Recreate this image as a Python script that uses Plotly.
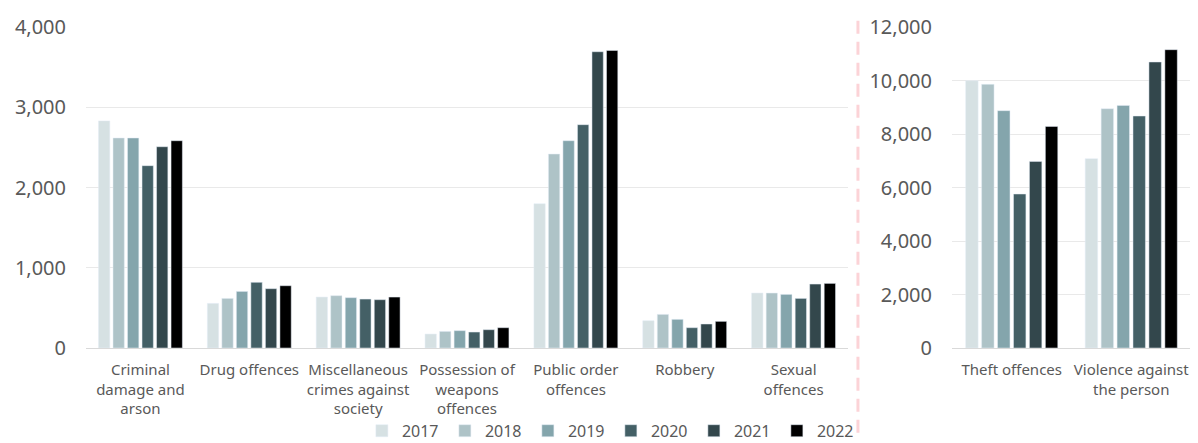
import plotly.graph_objects as go

# data
years = ['2017', '2018', '2019', '2020', '2021', '2022']
colours = ['#d6e1e3', '#aec3c7', '#84a5ac', '#446066', '#33474c', '#000000']

left_categories = ['Criminal<br>damage and<br>arson', 'Drug offences',
                   'Miscellaneous<br>crimes against<br>society',
                   'Possession of<br>weapons<br>offences', 'Public order<br>offences',
                   'Robbery', 'Sexual<br>offences']
right_categories = ['Theft offences', 'Violence against<br>the person']

# one list per year, in category order
left_values = {
  '2017': [2830, 556, 635, 174, 1798, 340, 685],
  '2018': [2617, 618, 652, 207, 2417, 419, 685],
  '2019': [2617, 705, 627, 216, 2583, 357, 668],
  '2020': [2272, 818, 610, 199, 2783, 253, 618],
  '2021': [2508, 739, 602, 228, 3692, 299, 797],
  '2022': [2583, 776, 635, 253, 3708, 332, 805],
}
right_values = {
  '2017': [9990, 7077],
  '2018': [9856, 8946],
  '2019': [8872, 9070],
  '2020': [5757, 8673],
  '2021': [6976, 10692],
  '2022': [8284, 11152],
}

grey = '#595959'
font_family = 'Noto Sans'

fig = go.Figure()
for year, colour in zip(years, colours):
  fig.add_trace(go.Bar(x=left_categories, y=left_values[year], name=year,
                       marker_color=colour, legendgroup=year,
                       xaxis='x', yaxis='y'))
  fig.add_trace(go.Bar(x=right_categories, y=right_values[year], name=year,
                       marker_color=colour, legendgroup=year, showlegend=False,
                       xaxis='x2', yaxis='y2'))

tick_font = dict(family=font_family, size=20, color=grey)
cat_font = dict(family=font_family, size=15, color=grey)

# the page body adds an 8px offset, so margins are 8px smaller on top/left
fig.update_layout(
  width=1198, height=443,
  margin=dict(l=78, r=15, t=19, b=103, autoexpand=False),
  paper_bgcolor='white', plot_bgcolor='white',
  barmode='group', bargap=0.2, bargroupgap=0.22,
  font=dict(family=font_family, color=grey),
  xaxis=dict(domain=[0, 0.6896], tickfont=cat_font, showline=True,
             linecolor='#d9d9d9', linewidth=1, ticks='', anchor='y',
             ticklabelstandoff=8, automargin=False),
  yaxis=dict(range=[0, 4000], dtick=1000, tickformat=',', tickfont=tick_font,
             gridcolor='#e9e9e9', zeroline=False, ticklabelstandoff=19,
             anchor='x', automargin=False),
  xaxis2=dict(domain=[0.7837, 1.0], tickfont=cat_font, showline=True,
              linecolor='#d9d9d9', linewidth=1, ticks='', anchor='y2',
              ticklabelstandoff=8, automargin=False),
  yaxis2=dict(range=[0, 12000], dtick=2000, tickformat=',', tickfont=tick_font,
              gridcolor='#e9e9e9', zeroline=False, ticklabelstandoff=19,
              anchor='x2', automargin=False),
  legend=dict(orientation='h', x=0.475, xanchor='center', y=-0.258, yanchor='middle',
              font=dict(family=font_family, size=16, color=grey),
              bgcolor='rgba(0,0,0,0)',
              entrywidth=38, itemwidth=30, traceorder='normal'),
  showlegend=True,
)

# dashed divider between the two panels
fig.add_shape(type='line', xref='paper', yref='paper',
              x0=0.6986, x1=0.6986, y0=-0.264, y1=1.041,
              line=dict(color='#fcd3d7', width=3, dash='13px,8px'))

fig.write_html('out.html')
